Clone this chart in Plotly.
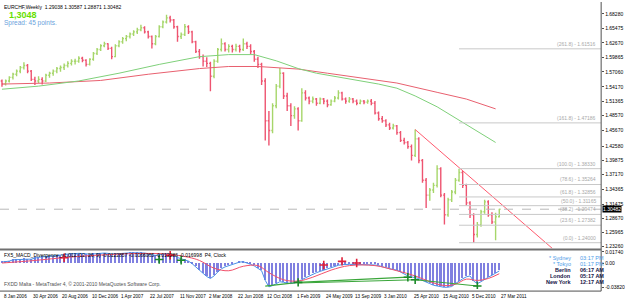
import datetime as dt
import plotly.graph_objects as go

# ---------------- data ----------------
start_date = dt.date(2006, 1, 8)
n_bars = 137  # two-week bars
bar_dates = [start_date + dt.timedelta(days=14 * k) for k in range(n_bars)]

opens = [1.5530,1.5470,1.5530,1.5600,1.5660,1.5720,1.5790,1.5830,1.5720,1.5560,
         1.5530,1.5560,1.5530,1.5640,1.5680,1.5720,1.5770,1.5790,1.5830,1.5870,
         1.5910,1.5910,1.5970,1.5930,1.5850,1.5950,1.6060,1.6140,1.6210,1.6250,
         1.6160,1.6000,1.6210,1.6290,1.6350,1.6390,1.6440,1.6480,1.6520,1.6560,
         1.6480,1.6390,1.6250,1.6390,1.6580,1.6670,1.6750,1.6710,1.6580,1.6390,
         1.6430,1.6580,1.6480,1.6290,1.6100,1.6000,1.5910,1.5870,1.5620,1.5910,
         1.6140,1.6250,1.6140,1.6200,1.6140,1.6200,1.6140,1.6250,1.6200,1.6100,
         1.5950,1.5850,1.5530,1.4760,1.4570,1.5050,1.5430,1.5680,1.5240,1.5050,
         1.4860,1.4990,1.4760,1.5300,1.5200,1.5140,1.5180,1.5100,1.5180,1.5140,
         1.5070,1.5140,1.5200,1.5300,1.5180,1.5140,1.5180,1.5140,1.5100,1.5140,
         1.5120,1.5140,1.5100,1.4910,1.4800,1.4760,1.4680,1.4620,1.4660,1.4530,
         1.4380,1.4340,1.4260,1.4090,1.4410,1.3990,1.3610,1.3320,1.3420,1.3510,
         1.3830,1.3320,1.2940,1.3230,1.3380,1.3610,1.3760,1.3510,1.3170,1.2940,
         1.2560,1.2750,1.3000,1.3190,1.2940,1.2800,1.29038]
highs = [1.5560,1.5560,1.5620,1.5690,1.5750,1.5820,1.5890,1.5860,1.5740,1.5610,
         1.5620,1.5600,1.5670,1.5710,1.5750,1.5800,1.5830,1.5870,1.5910,1.5950,
         1.5960,1.6010,1.6000,1.5950,1.5970,1.6090,1.6170,1.6240,1.6290,1.6260,
         1.6190,1.6240,1.6320,1.6380,1.6420,1.6470,1.6510,1.6560,1.6620,1.6590,
         1.6500,1.6410,1.6420,1.6610,1.6700,1.6810,1.6790,1.6730,1.6600,1.6470,
         1.6630,1.6610,1.6500,1.6310,1.6150,1.6040,1.5990,1.5900,1.5950,1.6170,
         1.6350,1.6280,1.6240,1.6230,1.6250,1.6230,1.6350,1.6290,1.6240,1.6130,
         1.6000,1.5880,1.5580,1.4950,1.5100,1.5470,1.5780,1.5700,1.5300,1.5100,
         1.5040,1.5020,1.5390,1.5350,1.5230,1.5230,1.5200,1.5210,1.5200,1.5170,
         1.5170,1.5240,1.5350,1.5320,1.5210,1.5220,1.5200,1.5170,1.5170,1.5160,
         1.5170,1.5180,1.5140,1.4940,1.4850,1.4790,1.4720,1.4700,1.4680,1.4560,
         1.4430,1.4370,1.4300,1.4590,1.4440,1.4020,1.3650,1.3460,1.3560,1.3900,
         1.3860,1.3360,1.3270,1.3420,1.3650,1.3833,1.3790,1.3540,1.3200,1.2970,
         1.2800,1.3040,1.3230,1.3220,1.2990,1.2980,1.30587]
lows = [1.5420,1.5440,1.5500,1.5560,1.5620,1.5680,1.5750,1.5680,1.5530,1.5450,
        1.5490,1.5460,1.5510,1.5590,1.5630,1.5680,1.5710,1.5740,1.5790,1.5830,
        1.5850,1.5880,1.5890,1.5810,1.5830,1.5920,1.6030,1.6110,1.6180,1.6130,
        1.5950,1.5990,1.6180,1.6250,1.6300,1.6350,1.6400,1.6440,1.6490,1.6450,
        1.6350,1.6160,1.6220,1.6370,1.6550,1.6640,1.6660,1.6540,1.6290,1.6340,
        1.6400,1.6440,1.6260,1.6070,1.5960,1.5810,1.5800,1.5330,1.5580,1.5880,
        1.6100,1.6100,1.6080,1.6080,1.6100,1.6080,1.6110,1.6150,1.6050,1.5900,
        1.5780,1.5450,1.4380,1.4280,1.4520,1.5000,1.5390,1.5180,1.4950,1.4660,
        1.4800,1.4570,1.4740,1.5150,1.5080,1.5100,1.5050,1.5080,1.5080,1.5020,
        1.5050,1.5120,1.5170,1.5150,1.5090,1.5110,1.5100,1.5060,1.5080,1.5080,
        1.5090,1.5060,1.4880,1.4760,1.4720,1.4640,1.4580,1.4590,1.4490,1.4350,
        1.4300,1.4220,1.3990,1.4060,1.3940,1.3560,1.3070,1.3210,1.3360,1.3470,
        1.3280,1.2750,1.2900,1.3190,1.3340,1.3580,1.3460,1.3120,1.2880,1.2400,
        1.2500,1.2710,1.2960,1.2900,1.2760,1.2450,1.28871]
closes = [1.5470,1.5530,1.5600,1.5660,1.5720,1.5790,1.5830,1.5720,1.5560,1.5530,
          1.5560,1.5530,1.5640,1.5680,1.5720,1.5770,1.5790,1.5830,1.5870,1.5910,
          1.5910,1.5970,1.5930,1.5850,1.5950,1.6060,1.6140,1.6210,1.6250,1.6160,
          1.6000,1.6210,1.6290,1.6350,1.6390,1.6440,1.6480,1.6520,1.6560,1.6480,
          1.6390,1.6250,1.6390,1.6580,1.6670,1.6750,1.6710,1.6580,1.6390,1.6430,
          1.6580,1.6480,1.6290,1.6100,1.6000,1.5910,1.5870,1.5620,1.5910,1.6140,
          1.6250,1.6140,1.6200,1.6140,1.6200,1.6140,1.6250,1.6200,1.6100,1.5950,
          1.5850,1.5530,1.4760,1.4570,1.5050,1.5430,1.5680,1.5240,1.5050,1.4860,
          1.4990,1.4760,1.5300,1.5200,1.5140,1.5180,1.5100,1.5180,1.5140,1.5070,
          1.5140,1.5200,1.5300,1.5180,1.5140,1.5180,1.5140,1.5100,1.5140,1.5120,
          1.5140,1.5100,1.4910,1.4800,1.4760,1.4680,1.4620,1.4660,1.4530,1.4380,
          1.4340,1.4260,1.4090,1.4410,1.3990,1.3610,1.3320,1.3420,1.3510,1.3830,
          1.3320,1.2940,1.3230,1.3380,1.3610,1.3760,1.3510,1.3170,1.2940,1.2560,
          1.2750,1.3000,1.3190,1.2940,1.2800,1.29038,1.30482]

# moving averages (bar index, price)
ma_fast_idx = [0, 10, 21, 32, 43, 54, 62, 69, 75, 81, 86, 94, 103, 108, 113, 119, 126, 135]
ma_fast_val = [1.537, 1.543, 1.553, 1.568, 1.585, 1.600, 1.604, 1.604, 1.592, 1.577,
               1.568, 1.558, 1.547, 1.539, 1.524, 1.503, 1.473, 1.434]
ma_slow_idx = [0, 13, 27, 40, 54, 62, 70, 81, 89, 97, 108, 119, 127, 135]
ma_slow_val = [1.547, 1.549, 1.554, 1.566, 1.577, 1.581, 1.581, 1.576, 1.568, 1.560,
               1.549, 1.531, 1.518, 1.499]

# trend line (bar index, price)
trend_idx = [113, 150.5]
trend_val = [1.4590, 1.2290]

# Fibonacci levels
fib_anchor_idx = 125
fib_ratios = ["261.8", "161.8", "100.0", "78.6", "61.8", "50.0", "38.2", "23.6", "0.0"]
fib_prices = [1.61516, 1.47186, 1.38330, 1.35264, 1.32856, 1.31165, 1.29474, 1.27382, 1.24000]

bid_price = 1.30482

price_ticks = [1.68280, 1.65475, 1.62670, 1.59865, 1.57060, 1.54170, 1.51365, 1.48570,
               1.45670, 1.42580, 1.39875, 1.37170, 1.34365, 1.31475, 1.28670, 1.25965, 1.23260]

# MACD histogram per bar
macd_hist = [0.0015,0.0020,0.0030,0.0050,0.0055,0.0060,0.0065,0.0060,0.0060,0.0080,
             0.0090,0.0095,0.0100,0.0100,0.0105,0.0110,0.0120,0.0130,0.0140,0.0145,
             0.0148,0.0150,0.0148,0.0140,0.0138,0.0142,0.0148,0.0152,0.0155,0.0150,
             0.0140,0.0142,0.0148,0.0152,0.0155,0.0158,0.0160,0.0162,0.0160,0.0155,
             0.0145,0.0125,0.0120,0.0130,0.0140,0.0145,0.0140,0.0120,0.0085,0.0065,
             0.0055,0.0030,-0.0010,-0.0060,-0.0120,-0.0170,-0.0210,-0.0240,-0.0200,-0.0140,
             -0.0090,-0.0060,-0.0040,-0.0020,0.0000,0.0015,0.0020,0.0005,-0.0020,-0.0045,
             -0.0080,-0.0120,-0.0270,-0.0370,-0.0350,-0.0320,-0.0290,-0.0300,-0.0310,-0.0320,
             -0.0310,-0.0290,-0.0260,-0.0230,-0.0200,-0.0170,-0.0150,-0.0130,-0.0110,-0.0090,
             -0.0075,-0.0055,-0.0035,-0.0025,-0.0020,-0.0020,-0.0022,-0.0022,-0.0024,-0.0024,
             -0.0025,-0.0025,-0.0030,-0.0040,-0.0060,-0.0075,-0.0090,-0.0100,-0.0110,-0.0140,
             -0.0170,-0.0200,-0.0215,-0.0225,-0.0240,-0.0270,-0.0300,-0.0320,-0.0345,-0.0360,
             -0.0370,-0.0378,-0.0375,-0.0365,-0.0320,-0.0280,-0.0245,-0.0215,-0.0200,-0.0280,
             -0.0320,-0.0290,-0.0250,-0.0220,-0.0190,-0.0160,-0.0123]
signal_idx = [0, 9, 18, 27, 37, 45, 51, 54, 58, 62, 66, 70, 73, 77, 81, 85, 90, 95,
              102, 108, 113, 117, 121, 124, 127, 130, 133, 136]
signal_val = [0.0000, 0.0040, 0.0090, 0.0125, 0.0148, 0.0140, 0.0090, 0.0040, -0.0080,
              -0.0120, -0.0050, -0.0040, -0.0150, -0.0260, -0.0280, -0.0220, -0.0110,
              -0.0040, -0.0040, -0.0120, -0.0200, -0.0290, -0.0350, -0.0330, -0.0250,
              -0.0270, -0.0240, -0.0166]
div_green_idx = [72, 81, None, 81, 111, None, 81, 113, None, 113, 130]
div_green_val = [-0.0360, -0.0300, None, -0.0300, -0.0220, None, -0.0310, -0.0260, None, -0.0260, -0.0357]
arrow_red_idx = [17, 46, 88, 93, 97]
arrow_red_val = [0.0082, 0.0120, -0.0030, 0.0026, 0.0000]
arrow_green_idx = [43, 49, 81, 111, 113, 130]
arrow_green_val = [0.0054, 0.0043, -0.0300, -0.0220, -0.0260, -0.0357]

date_labels = ["8 Jan 2006", "30 Apr 2006", "20 Aug 2006", "10 Dec 2006", "1 Apr 2007",
               "22 Jul 2007", "11 Nov 2007", "2 Mar 2008", "22 Jun 2008", "12 Oct 2008",
               "1 Feb 2009", "24 May 2009", "13 Sep 2009", "3 Jan 2010", "25 Apr 2010",
               "15 Aug 2010", "5 Dec 2010", "27 Mar 2011"]

clock_names = ["* Sydney", "* Tokyo", "Berlin", "London", "New York"]
clock_times = ["03:17 PM", "01:17 PM", "06:17 AM", "05:17 AM", "12:17 AM"]

# ---------------- helpers / layout ----------------
W, H = 625, 300
PX_PER_DAY = 3.686 / 14.0
AX_X = 606  # right price-axis pixel


def px_date(idx):
    if idx is None:
        return None
    return dt.datetime.combine(start_date, dt.time()) + dt.timedelta(days=14 * idx)


x_start = dt.datetime.combine(start_date, dt.time()) - dt.timedelta(days=2 / PX_PER_DAY)
x_end = x_start + dt.timedelta(days=AX_X / PX_PER_DAY)


def py(ypx):
    return 1 - ypx / H


FONT = "Liberation Sans"

fig = go.Figure()

fig.add_trace(go.Ohlc(
    x=bar_dates, open=opens, high=highs, low=lows, close=closes,
    increasing=dict(line=dict(color="#a6d66a", width=1.4)),
    decreasing=dict(line=dict(color="#ee5470", width=1.4)),
    tickwidth=0.35, xaxis="x", yaxis="y", hoverinfo="skip"))

fig.add_trace(go.Scatter(x=[px_date(i) for i in ma_slow_idx], y=ma_slow_val, mode="lines",
                         line=dict(color="#e8606f", width=1), xaxis="x", yaxis="y"))
fig.add_trace(go.Scatter(x=[px_date(i) for i in ma_fast_idx], y=ma_fast_val, mode="lines",
                         line=dict(color="#7fd07a", width=1), xaxis="x", yaxis="y"))
fig.add_trace(go.Scatter(x=[px_date(i) for i in trend_idx], y=trend_val, mode="lines",
                         line=dict(color="#ff5a6e", width=1), xaxis="x", yaxis="y"))

# MACD subwindow
fig.add_trace(go.Bar(x=bar_dates, y=macd_hist, marker=dict(color="#8080e0", line=dict(width=0)),
                     width=6 * 24 * 3600 * 1000, xaxis="x2", yaxis="y2"))
fig.add_trace(go.Scatter(x=bar_dates, y=macd_hist, mode="lines",
                         line=dict(color="#4a90e8", width=1), xaxis="x2", yaxis="y2"))
fig.add_trace(go.Scatter(x=[px_date(i) for i in signal_idx], y=signal_val, mode="lines",
                         line=dict(color="#f2506a", width=1, shape="spline"), xaxis="x2", yaxis="y2"))
fig.add_trace(go.Scatter(x=[px_date(i) for i in div_green_idx], y=div_green_val, mode="lines",
                         line=dict(color="#3aa63a", width=1.2), connectgaps=False,
                         xaxis="x2", yaxis="y2"))
fig.add_trace(go.Scatter(x=[px_date(i) for i in arrow_red_idx], y=arrow_red_val, mode="markers",
                         marker=dict(symbol="cross-thin", size=6, line=dict(color="#e0203a", width=1.6)),
                         xaxis="x2", yaxis="y2"))
fig.add_trace(go.Scatter(x=[px_date(i) for i in arrow_green_idx], y=arrow_green_val, mode="markers",
                         marker=dict(symbol="cross-thin", size=6, line=dict(color="#1d8a2a", width=1.6)),
                         xaxis="x2", yaxis="y2"))

shapes = []
# bid line
shapes.append(dict(type="line", xref="paper", yref="y", x0=0, x1=AX_X / W, y0=bid_price, y1=bid_price,
                   line=dict(color="#b8b8b8", width=1, dash="dash")))
# fibonacci lines
for p in fib_prices:
    shapes.append(dict(type="line", xref="x", yref="y", x0=px_date(fib_anchor_idx), x1=x_end,
                       y0=p, y1=p, line=dict(color="#c8c8c8", width=1)))
# frame lines
shapes.append(dict(type="line", xref="paper", yref="paper", x0=AX_X / W, x1=AX_X / W,
                   y0=py(292), y1=1, line=dict(color="#505050", width=1)))
shapes.append(dict(type="line", xref="paper", yref="paper", x0=0, x1=AX_X / W,
                   y0=py(250), y1=py(250), line=dict(color="#707070", width=2)))
shapes.append(dict(type="line", xref="paper", yref="paper", x0=0, x1=AX_X / W,
                   y0=py(292), y1=py(292), line=dict(color="#505050", width=1)))

ann = []
ann.append(dict(text="EURCHF,Weekly  1.29038 1.30587 1.28871 1.30482", x=2 / W, y=py(0), xref="paper",
                yref="paper", xanchor="left", yanchor="top", showarrow=False,
                font=dict(family=FONT, size=5, color="#000000")))
ann.append(dict(text="<b>1,3048</b>", x=7 / W, y=py(6), xref="paper", yref="paper", xanchor="left",
                yanchor="top", showarrow=False, font=dict(family=FONT, size=9, color="#66e000")))
ann.append(dict(text="Spread: 45 points.", x=2 / W, y=py(15.5), xref="paper", yref="paper", xanchor="left",
                yanchor="top", showarrow=False, font=dict(family=FONT, size=6.5, color="#6a9fdc")))
for r, p in zip(fib_ratios, fib_prices):
    ann.append(dict(text="(%s) - %.5f" % (r, p), x=(AX_X - 3) / W, y=p, xref="paper", yref="y",
                    xanchor="right", yanchor="bottom", showarrow=False,
                    font=dict(family=FONT, size=5, color="#a8a8a8")))
ann.append(dict(text="1.30482", x=(AX_X + 1) / W, y=bid_price, xref="paper", yref="y", xanchor="left",
                yanchor="middle", showarrow=False, bgcolor="#000000", borderpad=0,
                font=dict(family=FONT, size=5, color="#ffffff")))
ann.append(dict(text="FX5_MACD_Divergence_v1.012 (12, 26, 9) -0.0122857 -0.0166065 -0.012286 -0.016998  P4, Clock",
                x=2 / W, y=py(251), xref="paper", yref="paper", xanchor="left", yanchor="top",
                showarrow=False, font=dict(family=FONT, size=5, color="#000000")))
ann.append(dict(text="FXDD Malta - MetaTrader 4, © 2001-2010 MetaQuotes Software Corp.",
                x=2 / W, y=py(280), xref="paper", yref="paper", xanchor="left", yanchor="top",
                showarrow=False, font=dict(family=FONT, size=5, color="#505050")))
for i, lab in enumerate(date_labels):
    d = dt.datetime.combine(start_date, dt.time()) + dt.timedelta(days=112 * i)
    ann.append(dict(text=lab, x=d, y=py(293), xref="x2", yref="paper", xanchor="left", yanchor="top",
                    showarrow=False, font=dict(family=FONT, size=4.6, color="#000000")))
clock_rows = [259, 265, 271, 277, 283]
for i, (nm, tm) in enumerate(zip(clock_names, clock_times)):
    light = i < 2
    col = "#4d9be8" if light else "#141446"
    ann.append(dict(text=nm if light else "<b>%s</b>" % nm, x=578 / W, y=py(clock_rows[i]), xref="paper",
                    yref="paper", xanchor="right", yanchor="middle", showarrow=False,
                    font=dict(family=FONT, size=5.5, color=col)))
    ann.append(dict(text=tm if light else "<b>%s</b>" % tm, x=583 / W, y=py(clock_rows[i]), xref="paper",
                    yref="paper", xanchor="left", yanchor="middle", showarrow=False,
                    font=dict(family=FONT, size=5.5, color=col)))

fig.update_layout(
    width=W, height=H, margin=dict(l=0, r=0, t=0, b=0),
    paper_bgcolor="#ffffff", plot_bgcolor="#ffffff", showlegend=False, bargap=0,
    xaxis=dict(domain=[0, AX_X / W], range=[x_start, x_end], type="date", showticklabels=False,
               showgrid=False, zeroline=False, rangeslider=dict(visible=False), anchor="y", fixedrange=True),
    yaxis=dict(domain=[py(249), py(1)], range=[1.22878, 1.70387], side="right", anchor="x",
               tickvals=price_ticks, ticktext=["%.5f" % v for v in price_ticks], ticks="outside",
               ticklen=2, tickcolor="#505050", showgrid=False, zeroline=False,
               tickfont=dict(family=FONT, size=5, color="#000000")),
    xaxis2=dict(domain=[0, AX_X / W], range=[x_start, x_end], type="date", showticklabels=False,
                showgrid=False, zeroline=False, anchor="y2"),
    yaxis2=dict(domain=[py(290), py(251)], range=[-0.0405, 0.0195], side="right", anchor="x2",
                tickvals=[0.0174, 0.0, -0.0382], ticktext=["0.01740", "0.00", "-0.03820"],
                ticks="outside", ticklen=2, tickcolor="#505050", showgrid=False, zeroline=False,
                tickfont=dict(family=FONT, size=5, color="#000000")),
    shapes=shapes, annotations=ann,
)

fig.write_html("out.html")
